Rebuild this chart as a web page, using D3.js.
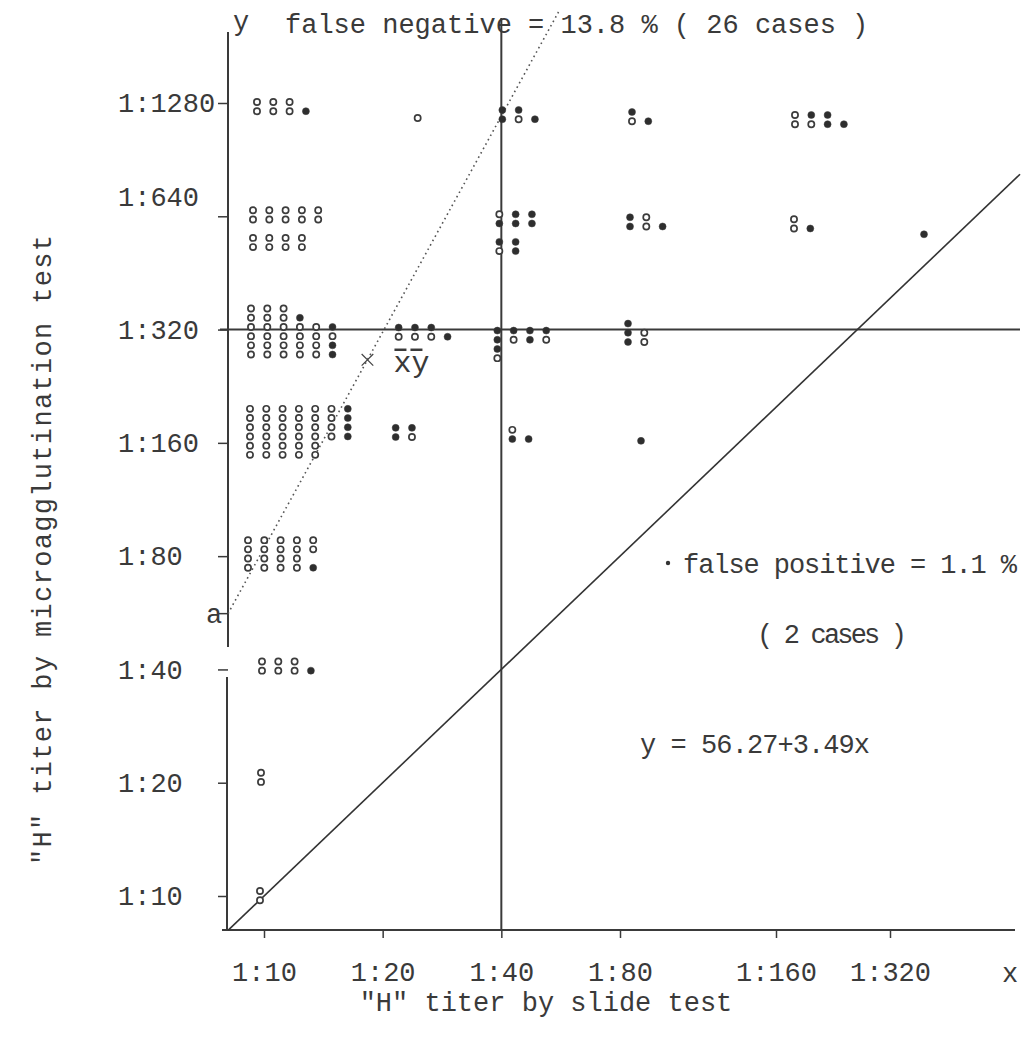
<!DOCTYPE html>
<html>
<head>
<meta charset="utf-8">
<script src="https://cdn.jsdelivr.net/npm/d3@7"></script>
<style>
  body { margin: 0; background: #fff; }
  text { font-family: "Liberation Mono", "DejaVu Sans Mono", monospace; fill: #3a3a3a; }
</style>
</head>
<body>
<svg id="chart" width="1027" height="1050"></svg>
<script>
"use strict";

// titer steps on both axes
var xTicks = [10, 20, 40, 80, 160, 320];
var yTicks = [10, 20, 40, 80, 160, 320, 640, 1280];

// one entry per typed group of cases: slide titer, micro titer, dot rows
// 'o' hollow mark, '*' solid mark, '.' gap
var cellSlide = [10, 20, 40, 80, 160, 10, 40, 80, 160, 320, 10, 20, 40, 80, 10, 20, 40, 80, 10, 10, 10, 10];
var cellMicro = [1280, 1280, 1280, 1280, 1280, 640, 640, 640, 640, 640, 320, 320, 320, 320, 160, 160, 160, 160, 80, 40, 20, 10];
var cellDots = [
  "ooo./ooo*",
  "o",
  "**./*o*",
  "*./o*",
  "o**./oo**",
  "ooooo/ooooo/...../oooo/oooo",
  "o**/***/.../**./o*.",
  "*o./*o*",
  "o./o*",
  "*",
  "ooo.../ooo*../ooooo*/oooooo/ooooo*/ooooo*",
  "***./ooo*",
  "****/*o*o/*.../o...",
  "*./*o/*o",
  "oooooo*/oooooo*/oooooo*/oooooo*/ooooo../ooooo..",
  "**/*o",
  "o./**",
  "*",
  "ooooo/ooooo/oooo./oooo*",
  "ooo./ooo*",
  "o/o",
  "o/o"
];

// regression line y = 56.27 + 3.49x : intercept and mean point
var intercept = 56.27;
var meanPoint = [18.3, 266];
// identity line through equal titers
var diagonal = [[10, 10], [40, 40]];

// layout only: where each typed group starts relative to its scale point
var cellNudge = [[-7, -1], [35, 15], [1, 7], [12, 9], [19, 12], [-11, -6], [-2, -2], [10, 1], [18, 3], [34, 18],
  [-13, -21], [16, -2], [-4, 1], [8, -6], [-14, -34], [13, -15], [11, -13], [21, -2], [-16, -16], [-2, -8], [-3, -10], [-4, -5]];

var ink = "#3a3a3a";
var mono = "'Liberation Mono', 'DejaVu Sans Mono', monospace";
var axisX = 228, axisY = 930;

var x = d3.scaleLog().base(2).domain([10, 80, 160, 320]).range([264, 620, 776, 890]);
var y = d3.scaleLog().base(2).domain([10, 1280]).range([896, 103]);

var svg = d3.select("#chart");

// axes lines
svg.append("line").attr("x1", axisX).attr("x2", axisX).attr("y1", 32).attr("y2", 647)
  .attr("stroke", ink).attr("stroke-width", 2);
svg.append("line").attr("x1", axisX - 1).attr("x2", axisX - 1).attr("y1", 677).attr("y2", axisY)
  .attr("stroke", ink).attr("stroke-width", 2);
svg.append("line").attr("x1", 222).attr("x2", 1015).attr("y1", axisY).attr("y2", axisY)
  .attr("stroke", ink).attr("stroke-width", 2);

var yAxis = svg.append("g")
  .attr("transform", "translate(" + axisX + ",0)")
  .attr("color", ink)
  .call(d3.axisLeft(y).tickValues(yTicks).tickSize(10).tickSizeOuter(0)
    .tickFormat(function(d) { return "1:" + d; }));
yAxis.select(".domain").remove();
yAxis.selectAll("line").attr("stroke-width", 1.5);
yAxis.selectAll("text")
  .attr("x", 118 - axisX)
  .attr("text-anchor", "start")
  .attr("font-family", mono)
  .attr("font-size", 27)
  // the 1:640 label was typed a little above its tick
  .attr("dy", function(d) { return d === 640 ? "-0.4em" : "0.32em"; });

var xAxis = svg.append("g")
  .attr("transform", "translate(0," + axisY + ")")
  .attr("color", ink)
  .call(d3.axisBottom(x).tickValues(xTicks).tickSize(8).tickSizeOuter(0)
    .tickFormat(function(d) { return "1:" + d; }));
xAxis.select(".domain").remove();
xAxis.selectAll("line").attr("stroke-width", 1.5);
xAxis.selectAll("text")
  .attr("y", 42)
  .attr("dy", "0.35em")
  .attr("font-family", mono)
  .attr("font-size", 27);

// reference lines at 1:40 slide and 1:320 micro
svg.append("line").attr("x1", x(40)).attr("x2", x(40)).attr("y1", 18).attr("y2", axisY)
  .attr("stroke", ink).attr("stroke-width", 2);
svg.append("line").attr("x1", 220).attr("x2", 1020).attr("y1", y(320)).attr("y2", y(320))
  .attr("stroke", ink).attr("stroke-width", 2);

// identity diagonal, extended across the plot
var p0 = [x(diagonal[0][0]), y(diagonal[0][1])];
var p1 = [x(diagonal[1][0]), y(diagonal[1][1])];
var slope = (p1[1] - p0[1]) / (p1[0] - p0[0]);
svg.append("line")
  .attr("x1", axisX).attr("y1", p0[1] + slope * (axisX - p0[0]))
  .attr("x2", 1020).attr("y2", p0[1] + slope * (1020 - p0[0]))
  .attr("stroke", "#333").attr("stroke-width", 1.6);

// dotted regression line from a through the mean point
var aPx = [axisX, y(intercept)];
var mPx = [x(meanPoint[0]), y(meanPoint[1])];
var rSlope = (mPx[1] - aPx[1]) / (mPx[0] - aPx[0]);
var topY = 12;
svg.append("line")
  .attr("x1", aPx[0]).attr("y1", aPx[1])
  .attr("x2", aPx[0] + (topY - aPx[1]) / rSlope).attr("y2", topY)
  .attr("stroke", "#555").attr("stroke-width", 1.6)
  .attr("stroke-dasharray", "1.6,3.4");

svg.append("line").attr("x1", axisX - 9).attr("x2", axisX).attr("y1", aPx[1]).attr("y2", aPx[1])
  .attr("stroke", ink).attr("stroke-width", 1.5);
svg.append("text").attr("x", 206).attr("y", aPx[1] + 9)
  .attr("font-size", 27).text("a");

var sym = d3.symbolTimes || d3.symbolCross;
svg.append("path")
  .attr("transform", "translate(" + mPx[0] + "," + mPx[1] + ")")
  .attr("d", d3.symbol().type(sym).size(90))
  .attr("fill", "none").attr("stroke", "#444").attr("stroke-width", 1.2);
var mean = svg.append("g").attr("transform", "translate(" + (mPx[0] + 26) + "," + (mPx[1] + 12) + ")");
mean.append("text").attr("font-family", "'Liberation Serif', serif").attr("font-size", 30).text("xy");
mean.append("line").attr("x1", 1).attr("x2", 13).attr("y1", -22).attr("y2", -22)
  .attr("stroke", ink).attr("stroke-width", 2.5);
mean.append("line").attr("x1", 17).attr("x2", 29).attr("y1", -22).attr("y2", -22)
  .attr("stroke", ink).attr("stroke-width", 2.5);

// case marks
var dots = [];
cellDots.forEach(function(pattern, i) {
  var left = x(cellSlide[i]) + cellNudge[i][0];
  var top = y(cellMicro[i]) + cellNudge[i][1];
  pattern.split("/").forEach(function(row, r) {
    row.split("").forEach(function(ch, c) {
      if (ch === ".") return;
      dots.push({ cx: left + c * 16.3, cy: top + r * 9.2, solid: ch === "*" });
    });
  });
});

svg.append("g").selectAll("circle")
  .data(dots)
  .enter()
  .append("circle")
  .attr("cx", function(d) { return d.cx; })
  .attr("cy", function(d) { return d.cy; })
  .attr("r", function(d) { return d.solid ? 3.5 : 3.1; })
  .attr("fill", function(d) { return d.solid ? "#2e2e2e" : "#fff"; })
  .attr("stroke", "#3c3c3c")
  .attr("stroke-width", function(d) { return d.solid ? 0.5 : 1.7; });

// texts
svg.append("text").attr("x", 233).attr("y", 30).attr("font-size", 27).text("y");
svg.append("text").attr("x", 285).attr("y", 33).attr("font-size", 27)
  .attr("xml:space", "preserve").text("false negative = 13.8 % ( 26 cases )");
svg.append("text").attr("x", 1002).attr("y", 982).attr("font-size", 27).text("x");

svg.append("circle").attr("cx", 668).attr("cy", 563).attr("r", 2.2).attr("fill", "#333");
svg.append("text").attr("x", 683).attr("y", 573).attr("font-size", 27)
  .attr("textLength", 334).attr("lengthAdjust", "spacing")
  .attr("xml:space", "preserve").text("false positive = 1.1 %");
svg.append("text").attr("x", 757).attr("y", 643).attr("font-size", 27)
  .attr("textLength", 150).attr("lengthAdjust", "spacing")
  .attr("xml:space", "preserve").text("( 2 cases )");
svg.append("text").attr("x", 640).attr("y", 753).attr("font-size", 27)
  .attr("textLength", 230).attr("lengthAdjust", "spacing")
  .text("y = 56.27+3.49x");

svg.append("text").attr("x", 546).attr("y", 1011).attr("font-size", 27)
  .attr("text-anchor", "middle").text("\"H\" titer by slide test");
svg.append("text")
  .attr("transform", "translate(42,550) rotate(-90)")
  .attr("x", -315)
  .attr("dy", "0.35em")
  .attr("font-size", 27)
  .attr("textLength", 630).attr("lengthAdjust", "spacing")
  .text("\"H\" titer by microagglutination test");
</script>
</body>
</html>
